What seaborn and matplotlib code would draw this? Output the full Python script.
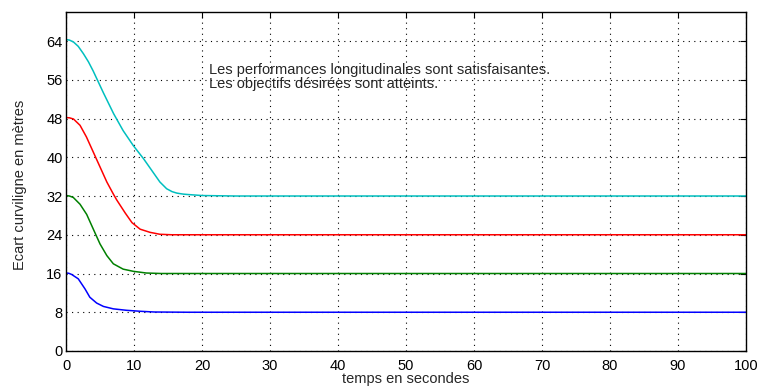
import matplotlib
matplotlib.use("Agg")
import matplotlib.pyplot as plt
import seaborn as sns
import pandas as pd

# Sampled time instants (s) and curvilinear gap (m) for each vehicle
t_cyan = [0, 0.5, 1.1, 1.8, 2.55, 3.3, 4.0, 5.5, 7.0, 8.4, 9.9, 11.4, 12.8, 13.8, 14.8, 15.6, 16.3, 17.2, 18.0, 20.0, 25, 40, 55, 70, 85, 100]
y_cyan = [64.3, 64.2, 63.8, 62.9, 61.4, 59.7, 57.8, 53.3, 49.0, 45.5, 42.4, 39.7, 36.9, 34.9, 33.5, 32.9, 32.6, 32.4, 32.3, 32.1, 32.0, 32.0, 32.0, 32.0, 32.0, 32.0]

t_red = [0, 0.5, 1.1, 2.06, 3.0, 4.0, 5.0, 6.0, 6.96, 7.45, 8.7, 9.7, 10.9, 12.35, 13.8, 15.5, 18.0, 25, 40, 55, 70, 85, 100]
y_red = [48.2, 48.15, 47.9, 46.6, 44.2, 41.1, 38.0, 34.9, 32.4, 31.2, 28.5, 26.5, 25.15, 24.5, 24.1, 24.0, 24.0, 24.0, 24.0, 24.0, 24.0, 24.0, 24.0]

t_green = [0, 0.5, 1.07, 2.06, 3.04, 4.0, 5.0, 6.0, 6.96, 8.4, 9.9, 11.8, 14.0, 18.0, 25, 40, 55, 70, 85, 100]
y_green = [32.1, 32.0, 31.7, 30.3, 28.2, 25.2, 22.1, 19.7, 18.0, 16.9, 16.45, 16.1, 16.0, 16.0, 16.0, 16.0, 16.0, 16.0, 16.0, 16.0]

t_blue = [0, 0.4, 0.83, 1.8, 2.8, 3.5, 4.5, 5.5, 6.96, 8.9, 10.9, 13.0, 18.0, 25, 40, 55, 70, 85, 100]
y_blue = [16.1, 16.05, 15.8, 14.9, 12.8, 11.1, 9.9, 9.2, 8.7, 8.4, 8.2, 8.05, 8.0, 8.0, 8.0, 8.0, 8.0, 8.0, 8.0]

x_ticks = [0, 10, 20, 30, 40, 50, 60, 70, 80, 90, 100]
y_ticks = [0, 8, 16, 24, 32, 40, 48, 56, 64]

x_label = "temps en secondes"
y_label = "Ecart curviligne en mètres"
note = ("Les performances longitudinales sont satisfaisantes.\n"
        "Les objectifs désirées sont atteints.")

sns.set_style("white")
plt.rcParams["font.family"] = ["Liberation Sans", "DejaVu Sans"]
fs = 10.5

fig = plt.figure(figsize=(7.58, 3.88), dpi=100)
ax = fig.add_axes([0.0871, 0.0954, 0.8971, 0.8737])

series = [
    (t_cyan, y_cyan, (0.0, 0.75, 0.75)),
    (t_red, y_red, (1.0, 0.0, 0.0)),
    (t_green, y_green, (0.0, 0.5, 0.0)),
    (t_blue, y_blue, (0.0, 0.0, 1.0)),
]
for t, y, c in series:
    df = pd.DataFrame({"t": t, "y": y})
    sns.lineplot(data=df, x="t", y="y", color=c, linewidth=1.1,
                 estimator=None, sort=False, ax=ax)

ax.set_xlim(0, 100)
ax.set_ylim(0, 70)
ax.set_xticks(x_ticks)
ax.set_yticks(y_ticks)
ax.grid(True, color="black", linestyle=(0, (1, 4)), linewidth=0.8)
ax.tick_params(direction="in", length=4, width=0.8, top=True, right=True,
               labelsize=fs, colors="black")
ax.tick_params(axis="x", pad=6)
ax.tick_params(axis="y", pad=2.5)
for s in ax.spines.values():
    s.set_visible(True)
    s.set_color("black")
    s.set_linewidth(1.0)

ax.set_xlabel(x_label, fontsize=fs)
ax.set_ylabel(y_label, fontsize=fs)
ax.xaxis.set_label_coords(0.5, -0.062)
ax.yaxis.set_label_coords(-0.058, 0.49)

ax.text(21.0, 56.6, note, fontsize=fs, va="center", ha="left",
        linespacing=0.95)

fig.savefig("out.png", dpi=100)
